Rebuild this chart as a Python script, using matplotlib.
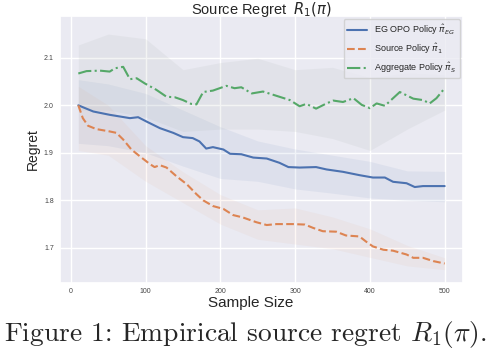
import numpy as np
import matplotlib
matplotlib.use("Agg")
import matplotlib.pyplot as plt
import seaborn as sns

# ---------------- data ----------------
x_eg = [10, 30, 52, 79, 90, 101, 119, 137, 150, 163, 172, 181, 190, 204, 213, 228,
        244, 262, 279, 291, 306, 328, 342, 364, 386, 404, 420, 431, 449, 460, 471, 500]
y_eg = [2.000, 1.987, 1.980, 1.973, 1.975, 1.966, 1.952, 1.942, 1.933, 1.931, 1.924,
        1.909, 1.912, 1.907, 1.898, 1.897, 1.890, 1.888, 1.879, 1.870, 1.869, 1.870,
        1.865, 1.860, 1.853, 1.848, 1.848, 1.839, 1.836, 1.828, 1.830, 1.830]

x_src = [10, 16, 23, 34, 52, 61, 70, 81, 92, 106, 112, 119, 128, 141, 155, 168, 177,
         190, 204, 217, 230, 248, 262, 275, 297, 313, 324, 337, 355, 368, 386, 395,
         404, 418, 431, 449, 458, 471, 485, 500]
y_src = [2.000, 1.973, 1.957, 1.950, 1.945, 1.942, 1.928, 1.907, 1.893, 1.876, 1.870,
         1.874, 1.869, 1.851, 1.834, 1.813, 1.800, 1.788, 1.782, 1.769, 1.764, 1.754,
         1.748, 1.750, 1.750, 1.749, 1.742, 1.735, 1.734, 1.726, 1.724, 1.713, 1.703,
         1.696, 1.694, 1.686, 1.679, 1.679, 1.672, 1.667]

x_agg = [10, 21, 39, 52, 59, 70, 79, 88, 99, 114, 128, 139, 150, 161, 168, 177, 190,
         208, 219, 228, 242, 257, 275, 293, 306, 315, 328, 342, 351, 364, 378, 389,
         400, 409, 420, 431, 440, 458, 471, 480, 489, 500]
y_agg = [2.067, 2.072, 2.073, 2.071, 2.078, 2.081, 2.055, 2.057, 2.046, 2.033, 2.018,
         2.017, 2.011, 2.003, 2.002, 2.028, 2.031, 2.041, 2.036, 2.038, 2.025, 2.029,
         2.020, 2.011, 1.998, 2.003, 1.993, 2.004, 2.010, 2.007, 2.015, 2.001, 1.994,
         2.004, 1.999, 2.015, 2.028, 2.014, 2.011, 2.004, 2.015, 2.036]

# uncertainty bands (lower / upper), read at coarse sample sizes
band_x = [10, 50, 100, 150, 200, 250, 300, 350, 400, 450, 500]
eg_lo = [1.920, 1.915, 1.900, 1.872, 1.846, 1.840, 1.824, 1.815, 1.805, 1.800, 1.797]
eg_hi = [2.054, 2.045, 2.025, 1.990, 1.955, 1.925, 1.908, 1.895, 1.882, 1.862, 1.861]
src_lo = [1.905, 1.895, 1.840, 1.795, 1.750, 1.718, 1.708, 1.698, 1.680, 1.662, 1.654]
src_hi = [2.040, 2.000, 1.915, 1.860, 1.812, 1.780, 1.784, 1.765, 1.740, 1.705, 1.679]
agg_lo = [1.990, 1.990, 1.975, 1.945, 1.950, 1.950, 1.945, 1.930, 1.905, 1.950, 1.990]
agg_hi = [2.127, 2.150, 2.140, 2.075, 2.090, 2.099, 2.075, 2.080, 2.058, 2.068, 2.064]

labels = [r"EG OPO Policy $\hat{\pi}_{EG}$", r"Source Policy $\hat{\pi}_1$",
          r"Aggregate Policy $\hat{\pi}_S$"]
xticks = [0, 100, 200, 300, 400, 500]
yticks = [1.7, 1.8, 1.9, 2.0, 2.1]

# ---------------- style ----------------
sns.set_theme(style="darkgrid")
plt.rcParams["font.family"] = ["Liberation Sans", "DejaVu Sans"]
plt.rcParams["mathtext.fontset"] = "dejavusans"
pal = sns.color_palette("deep")
c_eg, c_src, c_agg = pal[0], pal[1], pal[2]

fig = plt.figure(figsize=(4.9, 3.52), dpi=100)
ax = fig.add_axes([60 / 490, 1 - 283 / 352, 403 / 490, 267 / 352])

ax.fill_between(band_x, eg_lo, eg_hi, color=c_eg, alpha=0.08, lw=0)
ax.fill_between(band_x, src_lo, src_hi, color=c_src, alpha=0.06, lw=0)
ax.fill_between(band_x, agg_lo, agg_hi, color="#b0b8b4", alpha=0.14, lw=0)

ax.plot(x_eg, y_eg, color=c_eg, lw=1.5, ls="-", label=labels[0])
ax.plot(x_src, y_src, color=c_src, lw=1.5, ls="--", label=labels[1])
ax.plot(x_agg, y_agg, color=c_agg, lw=1.5, ls="-.", label=labels[2])

ax.set_xlim(-14.5, 524.5)
ax.set_ylim(1.626, 2.188)
ax.set_xticks(xticks)
ax.set_yticks(yticks)
ax.tick_params(axis="x", labelsize=5, colors="#444444", length=0, pad=3.5)
ax.tick_params(axis="y", labelsize=5, colors="#444444", length=0, pad=4.5)
ax.set_xlabel("Sample Size", fontsize=11)
ax.xaxis.set_label_coords((251 - 60) / 403, -(296 - 283) / 267)
ax.set_ylabel("Regret", fontsize=10, labelpad=3)
ax.set_title(r"Source Regret  $R_1(\pi)$", fontsize=10.5, pad=1.5)

leg = ax.legend(loc="upper right", fontsize=6.5, frameon=True,
                borderaxespad=0.35, handlelength=2.2, labelspacing=0.45)

fig.text(0.5, 1 - 334 / 352, r"Figure 1: Empirical source regret $R_1(\pi)$.",
         ha="center", va="center", fontsize=19.8, family="cmr10",
         math_fontfamily="cm")

fig.savefig("out.png", dpi=100)
